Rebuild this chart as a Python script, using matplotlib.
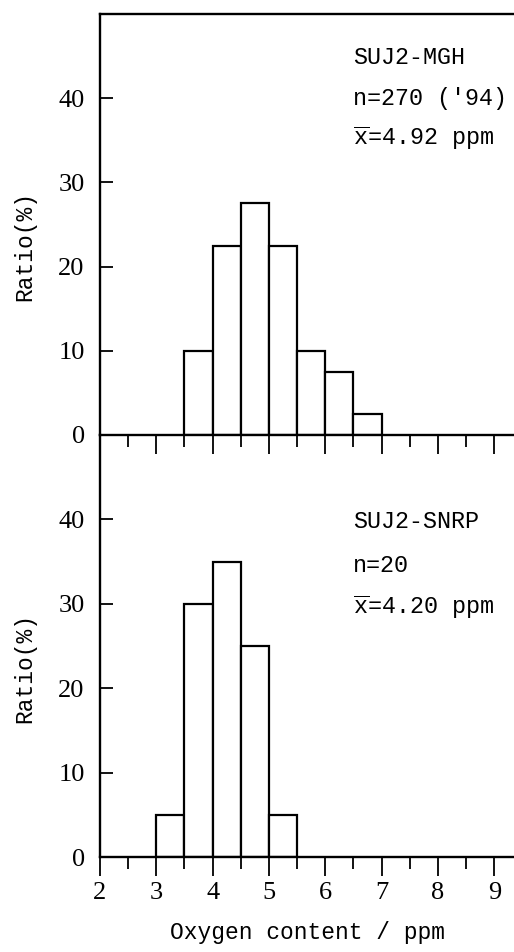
import matplotlib
matplotlib.use("Agg")
import matplotlib.pyplot as plt
from matplotlib.ticker import MultipleLocator, FixedLocator

# Data
bin_width = 0.5
mgh_left_edges = [3.5, 4.0, 4.5, 5.0, 5.5, 6.0, 6.5]
mgh_ratio = [10, 22.5, 27.5, 22.5, 10, 7.5, 2.5]
snrp_left_edges = [3.0, 3.5, 4.0, 4.5, 5.0]
snrp_ratio = [5, 30, 35, 25, 5]
x_ticks = [2, 3, 4, 5, 6, 7, 8, 9]
y_ticks = [0, 10, 20, 30, 40]
mgh_text = ["SUJ2-MGH", "n=270 ('94)", r"$\overline{\mathrm{x}}$=4.92 ppm"]
snrp_text = ["SUJ2-SNRP", "n=20", r"$\overline{\mathrm{x}}$=4.20 ppm"]

plt.rcParams['mathtext.fontset'] = 'custom'
plt.rcParams['mathtext.rm'] = 'Liberation Mono'
plt.rcParams['mathtext.it'] = 'Liberation Mono'

W, H = 514, 952
fig = plt.figure(figsize=(W / 100, H / 100), dpi=100)

left = 100 / W
width = 1.0 - left
ax_top = fig.add_axes([left, 1 - 435 / H, width, 421 / H])
ax_bot = fig.add_axes([left, 1 - 857 / H, width, 422 / H])

mono = 'Liberation Mono'
serif = 'Liberation Serif'

def style(ax, show_top, labels):
    ax.set_xlim(2, 9.35)
    ax.set_ylim(0, 50)
    for s in ax.spines.values():
        s.set_linewidth(1.7)
    ax.spines['right'].set_visible(False)
    ax.spines['top'].set_visible(show_top)
    ax.xaxis.set_major_locator(FixedLocator(x_ticks))
    ax.xaxis.set_minor_locator(MultipleLocator(0.5))
    ax.tick_params(axis='x', which='major', direction='out', length=14, width=1.3,
                   pad=4, labelsize=19, labelbottom=labels)
    ax.tick_params(axis='x', which='minor', direction='out', length=8.5, width=1.3)
    ax.set_yticks(y_ticks)
    ax.tick_params(axis='y', which='major', direction='in', length=9.5, width=1.3,
                   pad=11, labelsize=19)
    for lab in ax.get_xticklabels() + ax.get_yticklabels():
        lab.set_fontfamily(serif)
    ax.set_ylabel("Ratio(%)", fontsize=16.5, fontfamily=mono)
    ax.yaxis.set_label_coords(-0.155, 0.449)

ax_top.bar(mgh_left_edges, mgh_ratio, width=bin_width, align='edge',
           facecolor='white', edgecolor='black', linewidth=1.6, zorder=2)
ax_bot.bar(snrp_left_edges, snrp_ratio, width=bin_width, align='edge',
           facecolor='white', edgecolor='black', linewidth=1.6, zorder=2)

style(ax_top, True, False)
style(ax_bot, False, True)
ax_top.set_zorder(3)
ax_top.patch.set_alpha(0)

ax_bot.set_xlabel("Oxygen content / ppm", fontsize=16.5, fontfamily=mono, labelpad=12)

def add_text(lines, ys):
    for t, y in zip(lines, ys):
        fig.text(353 / W, 1 - y / H, t, fontsize=16.8, fontfamily=mono,
                 ha='left', va='center')

add_text(mgh_text, [57, 98, 138])
add_text(snrp_text, [522, 565, 607])

fig.savefig("out.png", dpi=100)
